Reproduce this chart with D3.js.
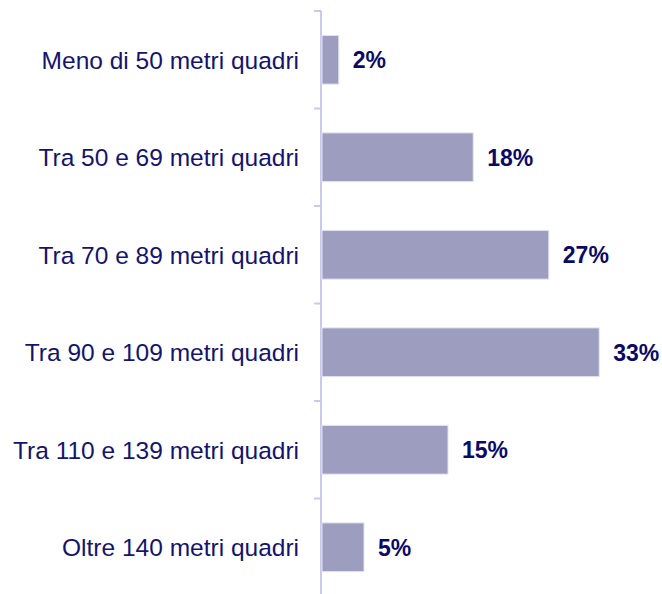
<!DOCTYPE html>
<html>
<head>
<meta charset="utf-8">
<script src="https://cdn.jsdelivr.net/npm/d3@7"></script>
<style>
  html, body { margin: 0; padding: 0; background: #ffffff; }
  svg { display: block; }
</style>
</head>
<body>
<svg id="chart" width="662" height="594"></svg>
<script>
// Dwelling size categories and share of respondents (%)
const categories = [
  "Meno di 50 metri quadri",
  "Tra 50 e 69 metri quadri",
  "Tra 70 e 89 metri quadri",
  "Tra 90 e 109 metri quadri",
  "Tra 110 e 139 metri quadri",
  "Oltre 140 metri quadri"
];
const values = [2, 18, 27, 33, 15, 5];
const valueLabels = ["2%", "18%", "27%", "33%", "15%", "5%"];

const svg = d3.select("#chart");
const axisX = 321;
const plotTop = 11, plotBottom = 596;

const y = d3.scaleBand()
  .domain(categories)
  .range([plotTop, plotBottom])
  .paddingInner(0.5)
  .paddingOuter(0.25);

const x = d3.scaleLinear()
  .domain([0, 40])
  .range([axisX, axisX + 336]);

// Vertical category axis with ticks between bands
const axisColor = "#c9c9ef";
svg.append("line")
  .attr("x1", axisX).attr("x2", axisX)
  .attr("y1", plotTop).attr("y2", plotBottom)
  .attr("stroke", axisColor).attr("stroke-width", 2);

const step = y.step();
const boundaries = d3.range(categories.length + 1).map(i => plotTop + i * step);
svg.selectAll("line.tick")
  .data(boundaries)
  .enter().append("line")
  .attr("class", "tick")
  .attr("x1", axisX - 7).attr("x2", axisX)
  .attr("y1", d => d).attr("y2", d => d)
  .attr("stroke", axisColor).attr("stroke-width", 2);

// Bars
svg.selectAll("rect.bar")
  .data(values)
  .enter().append("rect")
  .attr("class", "bar")
  .attr("x", x(0) + 1)
  .attr("y", (d, i) => y(categories[i]))
  .attr("width", d => x(d) - x(0))
  .attr("height", y.bandwidth())
  .attr("fill", "#9c9dbf")
  .attr("stroke", "#e4e4f0")
  .attr("stroke-width", 1);

// Value labels
svg.selectAll("text.value")
  .data(values)
  .enter().append("text")
  .attr("class", "value")
  .attr("x", d => x(d) + 15)
  .attr("y", (d, i) => y(categories[i]) + y.bandwidth() / 2)
  .attr("dy", "0.36em")
  .attr("font-family", "Arial, 'Liberation Sans', sans-serif")
  .attr("font-size", 23)
  .attr("font-weight", "bold")
  .attr("fill", "#0a0a66")
  .text((d, i) => valueLabels[i]);

// Category labels
svg.selectAll("text.cat")
  .data(categories)
  .enter().append("text")
  .attr("class", "cat")
  .attr("x", 299)
  .attr("y", d => y(d) + y.bandwidth() / 2)
  .attr("dy", "0.36em")
  .attr("text-anchor", "end")
  .attr("font-family", "Arial, 'Liberation Sans', sans-serif")
  .attr("font-size", 24.5)
  .attr("fill", "#14146e")
  .text(d => d);
</script>
</body>
</html>
